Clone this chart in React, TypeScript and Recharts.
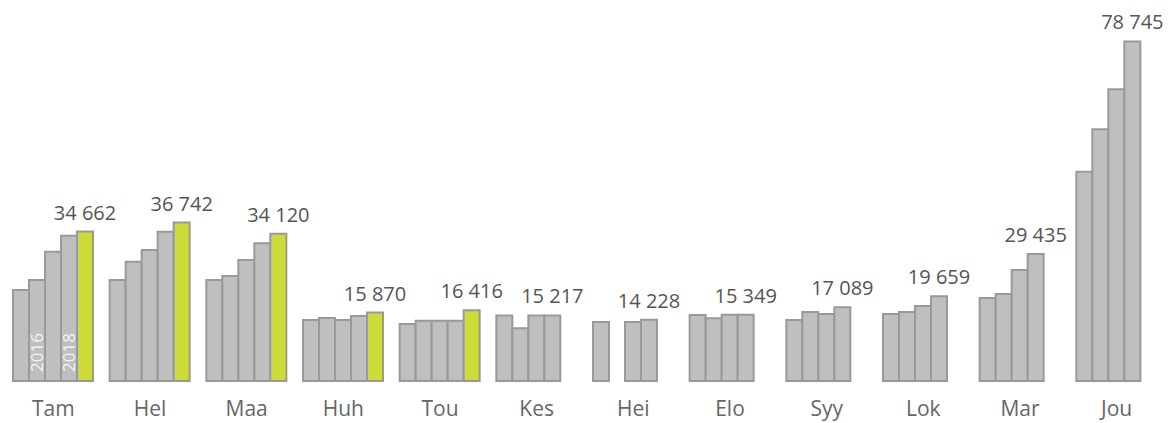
import React from "react"
import { BarChart, Bar, XAxis, YAxis, LabelList } from "recharts"

const months = ["Tam", "Hel", "Maa", "Huh", "Tou", "Kes", "Hei", "Elo", "Syy", "Lok", "Mar", "Jou"]
const years = ["2015", "2016", "2017", "2018", "2019"]

// one array per year, null = no data
const v2015 = [21100, 23400, 23400, 14150, 13220, 15200, 13690, 15300, 14150, 15540, 19250, 48550]
const v2016 = [23430, 27670, 24360, 14610, 13990, 12220, null, 14540, 16010, 16010, 20180, 58390]
const v2017 = [29990, 30390, 28070, 14150, 13990, 15217, 13690, 15349, 15540, 17400, 25750, 67660]
const v2018 = [33700, 34630, 31940, 15080, 13990, 15217, 14228, 15349, 17089, 19659, 29435, 78745]
const v2019 = [34662, 36742, 34120, 15870, 16416, null, null, null, null, null, null, null]

const series = [v2015, v2016, v2017, v2018, v2019]
const yearLabels = ["2016", "2018"]

const GREY = "#bfbfbf"
const GREEN = "#cddb38"
const STROKE = "#999999"
const FONT = "'Open Sans', sans-serif"

const data = months.map((m, i) => {
  const row: any = { month: m }
  let last = ""
  years.forEach((y, k) => {
    row["y" + y] = series[k][i]
    if (series[k][i] != null) last = y
  })
  row.last = last
  return row
})

const fmt = (n: number) => n.toString().replace(/\B(?=(\d{3})+(?!\d))/g, " ")

function makeLabel(year: string) {
  return (props: any) => {
    const { x, y, width, height, index, value } = props
    const row = data[index]
    const out: React.ReactNode[] = []
    if (value == null) return null
    if (row.last === year) {
      out.push(
        <text key="v" x={x + width / 2} y={y - 12} textAnchor="middle" fill="#555" fontSize={20} fontFamily={FONT}>
          {fmt(value)}
        </text>
      )
    }
    // year captions inside the first group
    if (index === 0 && yearLabels.includes(year)) {
      const cx = x + width / 2
      const by = y + height - 9
      out.push(
        <text key="y" x={cx} y={by} transform={`rotate(-90 ${cx} ${by})`} dy={6} fill="#f2f2f2" fontSize={17} fontFamily={FONT}>
          {year}
        </text>
      )
    }
    return <g>{out}</g>
  }
}

const MonthTick = (props: any) => {
  const { x, y, payload } = props
  return (
    <text x={x} y={y} dy={35} textAnchor="middle" fill="#666" fontSize={21} fontFamily={FONT}>
      {payload.value}
    </text>
  )
}

export default function App() {
  return (
    <div style={{ position: "absolute", left: 0, top: 0, width: 1171, height: 423, background: "#fff" }}>
      <BarChart
        width={1171}
        height={423}
        data={data}
        margin={{ top: 36, right: 6, bottom: 0, left: 5 }}
        barCategoryGap={8}
        barGap={0}
      >
        <XAxis dataKey="month" axisLine={false} tickLine={false} tickSize={0} tickMargin={0} height={42} tick={<MonthTick />} interval={0} />
        <YAxis hide domain={[0, 80000]} />
        {years.map((y) => (
          <Bar
            key={y}
            dataKey={"y" + y}
            fill={y === "2019" ? GREEN : GREY}
            stroke={STROKE}
            strokeWidth={2}
            isAnimationActive={false}
          >
            <LabelList dataKey={"y" + y} content={makeLabel(y)} />
          </Bar>
        ))}
      </BarChart>
    </div>
  )
}
